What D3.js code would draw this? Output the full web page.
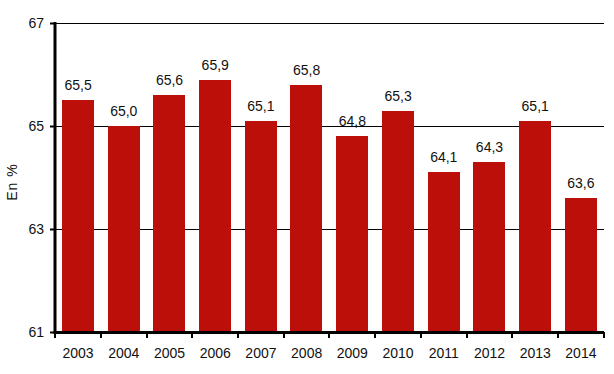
<!DOCTYPE html>
<html>
<head>
<meta charset="utf-8">
<script src="https://cdn.jsdelivr.net/npm/d3@7"></script>
<style>
  body { margin: 0; background: #fff; }
  text { font-family: "Liberation Sans", Arial, sans-serif; fill: #111; }
</style>
</head>
<body>
<div id="chart"></div>
<script>
// Data
var years = ["2003", "2004", "2005", "2006", "2007", "2008", "2009", "2010", "2011", "2012", "2013", "2014"]
var values = [65.5, 65.0, 65.6, 65.9, 65.1, 65.8, 64.8, 65.3, 64.1, 64.3, 65.1, 63.6]
var yTicks = [61, 63, 65, 67]

var width = 614
var height = 374
var margin = { top: 23, right: 10, bottom: 42, left: 55 }

var svg = d3.select("#chart")
  .append("svg")
  .attr("width", width)
  .attr("height", height)

// Scales
var xScale = d3.scaleBand()
  .domain(years)
  .range([margin.left, width - margin.right])
  .paddingInner(0.29)
  .paddingOuter(0.15)

var yScale = d3.scaleLinear()
  .domain([61, 67])
  .range([height - margin.bottom, margin.top])

var fmt = d => d3.format(".1f")(d).replace(".", ",")

// Grid lines
svg.append("g")
  .attr("class", "grid")
  .selectAll("line")
  .data(yTicks.slice(1))
  .enter()
  .append("line")
  .attr("x1", margin.left)
  .attr("x2", width - margin.right)
  .attr("y1", d => Math.round(yScale(d)) + 0.5)
  .attr("y2", d => Math.round(yScale(d)) + 0.5)
  .style("stroke", "#000")
  .style("stroke-width", 1)

// Bars
svg.append("g")
  .attr("class", "bars")
  .selectAll("rect")
  .data(values)
  .enter()
  .append("rect")
  .attr("x", (d, i) => Math.round(xScale(years[i])))
  .attr("width", Math.round(xScale.bandwidth()))
  .attr("y", d => Math.round(yScale(d)))
  .attr("height", d => Math.round(yScale(61)) - Math.round(yScale(d)))
  .style("fill", "#BD0F0A")

// Value labels
svg.append("g")
  .attr("class", "labels")
  .selectAll("text")
  .data(values)
  .enter()
  .append("text")
  .attr("x", (d, i) => xScale(years[i]) + xScale.bandwidth() / 2)
  .attr("y", d => yScale(d) - 10)
  .attr("text-anchor", "middle")
  .style("font-size", "14px")
  .text(d => fmt(d))

// Y axis
var yAxis = d3.axisLeft(yScale)
  .tickValues(yTicks)
  .tickSize(5)
  .tickPadding(6)
  .tickFormat(d => d)

var yG = svg.append("g")
  .attr("transform", `translate(${margin.left},0)`)
  .attr("class", "y-axis")
  .call(yAxis)
yG.select(".domain").remove()
yG.selectAll(".tick line").style("stroke", "#000").style("stroke-width", 2)
yG.selectAll(".tick text").style("font-size", "14px").style("fill", "#111").attr("font-family", null)

svg.append("line")
  .attr("x1", margin.left)
  .attr("x2", margin.left)
  .attr("y1", margin.top - 1)
  .attr("y2", yScale(61) + 1.5)
  .style("stroke", "#000")
  .style("stroke-width", 3)

// X axis
var xG = svg.append("g")
  .attr("transform", `translate(0,${Math.round(yScale(61))})`)
  .attr("class", "x-axis")

xG.append("line")
  .attr("x1", margin.left - 1.5)
  .attr("x2", width - margin.right)
  .attr("y1", 0.5)
  .attr("y2", 0.5)
  .style("stroke", "#000")
  .style("stroke-width", 3)

var boundaries = years.map(y => xScale(y) - xScale.step() * xScale.paddingInner() / 2).slice(1)
boundaries.unshift(margin.left)
boundaries.push(width - margin.right)

xG.selectAll(".xtick")
  .data(boundaries)
  .enter()
  .append("line")
  .attr("class", "xtick")
  .attr("x1", d => Math.round(d))
  .attr("x2", d => Math.round(d))
  .attr("y1", 0)
  .attr("y2", 6)
  .style("stroke", "#000")
  .style("stroke-width", 2)

xG.selectAll(".xlabel")
  .data(years)
  .enter()
  .append("text")
  .attr("class", "xlabel")
  .attr("x", d => xScale(d) + xScale.bandwidth() / 2)
  .attr("y", 26)
  .attr("text-anchor", "middle")
  .style("font-size", "14px")
  .text(d => d)

// Y label
svg.append("text")
  .attr("class", "y-label")
  .attr("text-anchor", "middle")
  .attr("transform", `translate(17,182) rotate(-90)`)
  .style("font-size", "14px")
  .style("letter-spacing", "1px")
  .text("En %")
</script>
</body>
</html>
